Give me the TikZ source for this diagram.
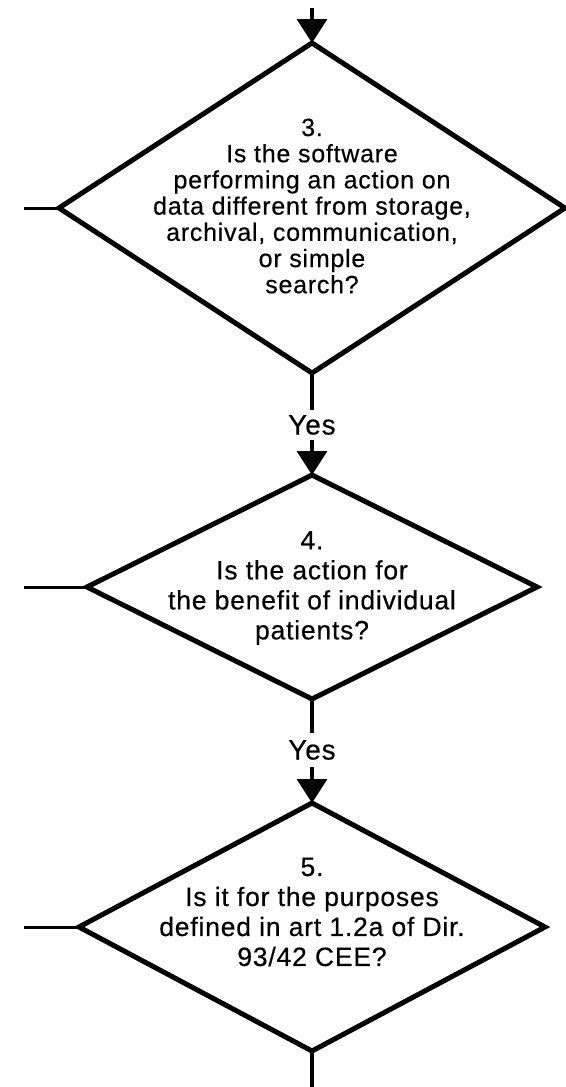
\documentclass[tikz,border=0pt]{standalone}
\usepackage{fontspec}
\setmainfont{Liberation Sans}[FakeBold=0.4,LetterSpace=3]
\usetikzlibrary{shapes.geometric,arrows.meta}
\begin{document}
\begin{tikzpicture}[x=1pt,y=1pt,
  dia/.style={diamond,draw=black,line width=5pt,inner sep=0pt,outer sep=0pt,fill=white},
  qtext/.style={align=center,inner sep=0pt,font=\fontsize{25}{26.2}\selectfont},
  qtextb/.style={align=center,inner sep=0pt,font=\fontsize{26.5}{30}\selectfont},
  yeslab/.style={inner sep=0pt,outer sep=0pt,font=\fontsize{28}{28}\selectfont},
  flow/.style={line width=3.5pt,-{Triangle[width=30pt,length=24pt]}},
  plain/.style={line width=3.5pt},
  side/.style={line width=3pt}]
\useasboundingbox (0,0) rectangle (565,-1087);
% diamonds
\node[dia,minimum width=506pt,minimum height=330pt] (d3) at (312,-208) {};
\node[dia,minimum width=450pt,minimum height=224pt] (d4) at (312,-587) {};
\node[dia,minimum width=466pt,minimum height=248pt] (d5) at (312,-927) {};
% texts
\node[qtext] (t3) at (312,-206) {3.\\Is the software\\performing an action on\\data different from storage,\\archival, communication,\\or simple\\search?};
\node[qtextb] (t4) at (312,-588) {4.\\Is the action for\\the benefit of individual\\patients?};
\node[qtextb] (t5) at (312,-912) {5.\\Is it for the purposes\\defined in art 1.2a of Dir.\\93/42 CEE?};
% yes labels
\node[yeslab,minimum height=30pt] (y1) at (312,-425) {Yes};
\node[yeslab,minimum height=34pt] (y2) at (312,-750) {Yes};
% coordinates
\coordinate (start) at (312,-8);
\coordinate (finish) at (312,-1087);
\coordinate (l3) at (24,-208);
\coordinate (l4) at (24,-587);
\coordinate (l5) at (24,-927);
% connectors
\draw[flow] (start) -- (d3.north);
\draw[plain] (d3.south) -- (y1.north);
\draw[flow] (y1.south) -- (d4.north);
\draw[plain] (d4.south) -- (y2.north);
\draw[flow] (y2.south) -- (d5.north);
\draw[plain] (d5.south) -- (finish);
\draw[side] (l3) -- (d3.west);
\draw[side] (l4) -- (d4.west);
\draw[side] (l5) -- (d5.west);
\end{tikzpicture}
\end{document}
